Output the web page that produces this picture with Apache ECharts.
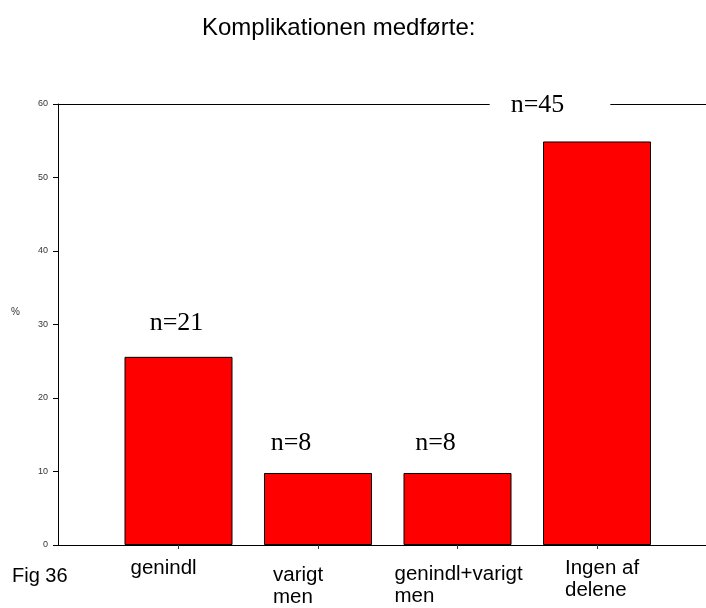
<!DOCTYPE html>
<html>
<head>
<meta charset="utf-8">
<script src="https://cdn.jsdelivr.net/npm/echarts@6/dist/echarts.min.js"></script>
<style>
  html, body { margin: 0; padding: 0; background: #fff; }
  #chart { width: 706px; height: 608px; }
</style>
</head>
<body>
<div id="chart"></div>
<script>
// Categories along the x axis
const categories = ['genindl', 'varigt\nmen', 'genindl+varigt\nmen', 'Ingen af\ndelene'];
// Share of patients (%) for each category
const percents = [25.6, 9.8, 9.8, 54.9];
// Number of patients in each category
const counts = [21, 8, 8, 45];
// Y axis ticks
const yTicks = [0, 10, 20, 30, 40, 50, 60];

const SANS = '"Liberation Sans", Arial, sans-serif';
const SERIF = '"Liberation Serif", "Times New Roman", serif';

// Per-category label placement (top, right, bottom, left padding)
const catLabelPad = [
  [0, 0, 0, -48],
  [7, 0, 0, -45],
  [6, 0, 0, -63],
  [0, 0, 0, -32]
];
// Per-bar count label placement
const countLabelStyle = [
  { offset: [-2, 0], distance: 21 },
  { offset: [-27, 0], distance: 17 },
  { offset: [-22, 0], distance: 17 },
  { offset: [-47, 0], distance: 23, padding: [0, 46, 0, 21], backgroundColor: '#fff' }
];

const chart = echarts.init(document.getElementById('chart'), null, { renderer: 'canvas' });

chart.setOption({
  backgroundColor: '#fff',
  animation: false,
  title: [
    {
      text: 'Komplikationen medførte:',
      left: 197, top: 11,
      textStyle: { fontFamily: SANS, fontSize: 24, fontWeight: 'normal', color: '#000' }
    },
    {
      text: 'Fig 36',
      left: 7, top: 561,
      textStyle: { fontFamily: SANS, fontSize: 20, fontWeight: 'normal', color: '#000' }
    },
    {
      text: '%',
      left: 6, top: 302,
      textStyle: { fontFamily: SANS, fontSize: 10, fontWeight: 'normal', color: '#333' }
    }
  ],
  grid: [
    { left: 108.75, right: 39.25, top: 104, bottom: 63 },
    { left: 58, right: 0, top: 104, bottom: 63 }
  ],
  xAxis: [
    {
      gridIndex: 0,
      type: 'category',
      data: categories.map((c, i) => ({
        value: c,
        textStyle: { align: 'left', padding: catLabelPad[i] }
      })),
      axisLine: { show: false },
      axisTick: { show: true, alignWithLabel: true, length: 4, lineStyle: { color: '#333' } },
      axisLabel: {
        show: true, interval: 0, margin: 12, align: 'left',
        fontFamily: SANS, fontSize: 20.5, lineHeight: 22, color: '#000'
      },
      splitLine: { show: false }
    },
    {
      gridIndex: 1, type: 'value', min: 0, max: 1, position: 'bottom',
      axisLine: { show: true, lineStyle: { color: '#000', width: 1 } },
      axisTick: { show: false }, axisLabel: { show: false }, splitLine: { show: false }
    },
    {
      gridIndex: 1, type: 'value', min: 0, max: 1, position: 'top',
      axisLine: { show: true, lineStyle: { color: '#000', width: 1 } },
      axisTick: { show: false }, axisLabel: { show: false }, splitLine: { show: false }
    }
  ],
  yAxis: [
    {
      gridIndex: 0, type: 'value', min: 0, max: 60, interval: 10,
      show: false
    },
    {
      gridIndex: 1, type: 'value', min: yTicks[0], max: yTicks[yTicks.length - 1], interval: 10,
      axisLine: { show: true, lineStyle: { color: '#000', width: 1 } },
      axisTick: { show: true, length: 5, lineStyle: { color: '#000' } },
      axisLabel: { fontFamily: SANS, fontSize: 9, color: '#333', margin: 10 },
      splitLine: { show: false }
    }
  ],
  series: [
    {
      type: 'bar',
      xAxisIndex: 0, yAxisIndex: 0,
      barWidth: 108,
      itemStyle: { color: '#ff0000', borderColor: '#000', borderWidth: 1 },
      label: {
        show: true, position: 'top',
        fontFamily: SERIF, fontSize: 26, color: '#000'
      },
      data: percents.map((v, i) => ({
        value: v,
        label: Object.assign({ formatter: 'n=' + counts[i] }, countLabelStyle[i])
      }))
    }
  ]
});
</script>
</body>
</html>
